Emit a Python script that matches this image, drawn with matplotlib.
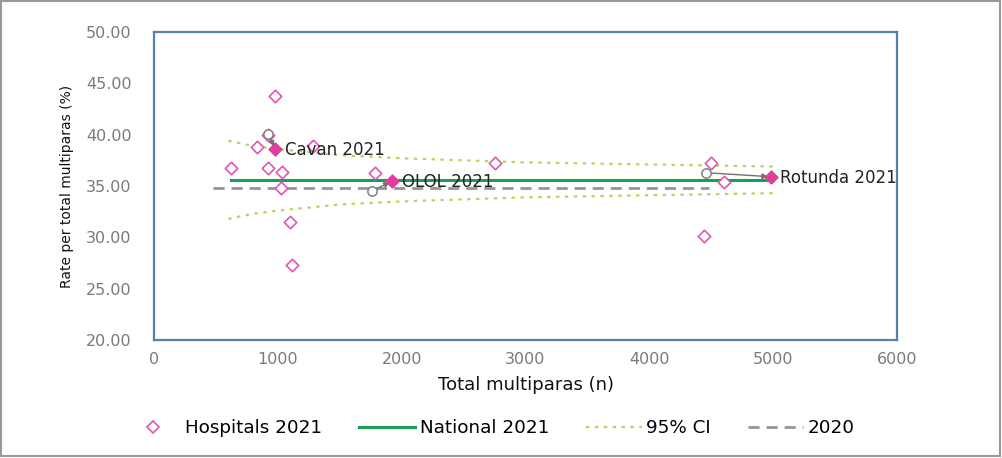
import matplotlib
matplotlib.use("Agg")
import matplotlib.pyplot as plt
from matplotlib.lines import Line2D
from matplotlib.patches import Rectangle

# Hospitals 2021 (all units)
hosp_n = [978, 833, 1285, 622, 922, 1035, 1027, 1787, 2757, 1100, 1116,
          4495, 4600, 4438, 922, 978, 1924, 4980]
hosp_rate = [43.8, 38.8, 38.9, 36.8, 36.8, 36.4, 34.8, 36.3, 37.2, 31.5, 27.3,
             37.2, 35.4, 30.1, 40.0, 38.6, 35.5, 35.9]

# Highlighted units
hl_names = ["Cavan 2021", "OLOL 2021", "Rotunda 2021"]
hl_n_2021 = [978, 1924, 4980]
hl_rate_2021 = [38.6, 35.5, 35.9]
hl_n_2020 = [922, 1762, 4454]
hl_rate_2020 = [40.1, 34.5, 36.3]

# National lines
national_n = [622, 5000]
national_rate = [35.6, 35.6]
n2020 = [480, 4480]
rate2020 = [34.8, 34.8]

# 95% CI funnel
ci_n = [600, 800, 1000, 1500, 2000, 2500, 3000, 3500, 4000, 4500, 5000]
ci_upper = [39.4, 38.9, 38.6, 38.0, 37.7, 37.5, 37.3, 37.2, 37.1, 37.0, 36.9]
ci_lower = [31.8, 32.3, 32.6, 33.2, 33.5, 33.7, 33.9, 34.0, 34.1, 34.2, 34.3]

pink = "#e055b8"
mag = "#e03d9c"
green = "#1a9e55"
ci_col = "#b4d65a"
grey = "#959595"

fig = plt.figure(figsize=(10.02, 4.58), dpi=100)
ax = fig.add_axes([154/1002, 1-340/458, (897-154)/1002, (340-32)/458])

ax.plot(ci_n, ci_upper, linestyle=(0, (1.5, 2.5)), color=ci_col, lw=1.6, zorder=2)
ax.plot(ci_n, ci_lower, linestyle=(0, (1.5, 2.5)), color=ci_col, lw=1.6, zorder=2)
ax.plot(n2020, rate2020, linestyle=(0, (4, 2.5)), color=grey, lw=2, zorder=2)
ax.plot(national_n, national_rate, color=green, lw=2.2, zorder=3)

ax.scatter(hosp_n, hosp_rate, marker="D", s=40, facecolors="white",
           edgecolors=pink, linewidths=1.2, zorder=4)

for i in range(len(hl_names)):
    ax.annotate("", xy=(hl_n_2021[i], hl_rate_2021[i]),
                xytext=(hl_n_2020[i], hl_rate_2020[i]),
                arrowprops=dict(arrowstyle="-|>", color="#707070", lw=1.0,
                                mutation_scale=8, shrinkA=3, shrinkB=2),
                zorder=5)
ax.scatter(hl_n_2020, hl_rate_2020, marker="o", s=45, facecolors="white",
           edgecolors="#808080", linewidths=1.1, zorder=5)
ax.scatter(hl_n_2021, hl_rate_2021, marker="D", s=40, color=mag, zorder=6)
for i, name in enumerate(hl_names):
    ax.annotate(name, (hl_n_2021[i], hl_rate_2021[i]), xytext=(7, -1),
                textcoords="offset points", va="center", ha="left",
                fontsize=12, color="#222222", zorder=7)

ax.set_xlim(0, 6000)
ax.set_ylim(20, 50)
ax.set_xticks(range(0, 6001, 1000))
ax.set_yticks([20, 25, 30, 35, 40, 45, 50])
ax.set_yticklabels([f"{v:.2f}" for v in [20, 25, 30, 35, 40, 45, 50]])
ax.tick_params(axis="y", length=0, labelsize=11.5, colors="#7a7a7a", pad=16)
ax.tick_params(axis="x", length=0, labelsize=11.5, colors="#7a7a7a", pad=9)
for s in ax.spines.values():
    s.set_color("#5a7fa8")
    s.set_linewidth(1.6)

ax.set_xlabel("Total multiparas (n)", fontsize=13, color="#111111", labelpad=6)
ax.set_ylabel("Rate per total multiparas (%)", fontsize=10, color="#111111",
              labelpad=9)

handles = [
    Line2D([], [], marker="D", linestyle="none", markerfacecolor="white",
           markeredgecolor=pink, markersize=6.5, markeredgewidth=1.2),
    Line2D([], [], color=green, lw=2.2),
    Line2D([], [], color=ci_col, lw=1.6, linestyle=(0, (1.5, 2.5))),
    Line2D([], [], color=grey, lw=2, linestyle=(0, (4, 2.5))),
]
labels = ["Hospitals 2021", "National 2021", "95% CI", "2020"]
fig.legend(handles, labels, loc="center", bbox_to_anchor=(0.489, 1-428/458),
           ncol=4, frameon=False, fontsize=13.2, columnspacing=2.0,
           handlelength=3.05, handletextpad=0.25)

fig.patches.append(Rectangle((0.001, 0.004), 0.997, 0.994, transform=fig.transFigure,
                             fill=False, edgecolor="#999999", lw=1.5))

fig.savefig("out.png", dpi=100)
